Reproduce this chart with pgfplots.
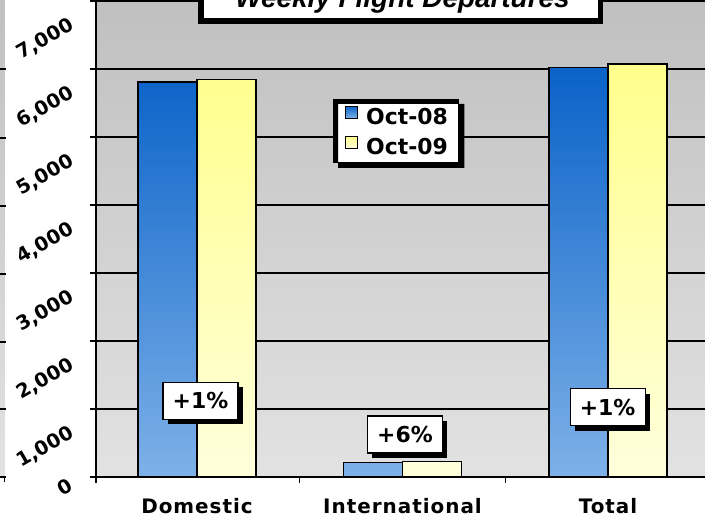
\documentclass[border=0pt]{standalone}
\usepackage{pgfplots}
\pgfplotsset{compat=1.18}
\usepackage{fontspec}
\setmainfont{DejaVu Sans}
\newfontfamily\titlefont{Liberation Sans}
\newfontfamily\spacedfont[LetterSpace=5]{DejaVu Sans}
\usetikzlibrary{shadows}

\definecolor{bluetop}{HTML}{0A62C8}
\definecolor{bluebot}{HTML}{7EB1E8}
\definecolor{yeltop}{HTML}{FFFF8C}
\definecolor{yelbot}{HTML}{FFFFDC}
\definecolor{bgtop}{HTML}{C0C0C0}
\definecolor{bgbot}{HTML}{E2E2E2}

\begin{document}
\begin{tikzpicture}
\useasboundingbox (0bp,0bp) rectangle (705bp,524bp);
\clip (0bp,0bp) rectangle (705bp,524bp);
% fragment of a neighbouring chart at the left edge
\shade[top color=bgtop,bottom color=bgbot] (0bp,47bp) rectangle (4.5bp,524bp);
\foreach \yy in {455,386,318,250,182,115,47} \draw[line width=1.2bp] (0bp,\yy bp) -- (6bp,\yy bp);
\draw[line width=1.2bp] (4.5bp,47bp) -- (4.5bp,42bp);
\begin{axis}[
  at={(96bp,47bp)}, anchor=south west,
  width=609bp, height=476bp, scale only axis,
  xmin=-0.4915, xmax=2.472, ymin=0, ymax=7000,
  axis lines*=left,
  axis line style={line width=1.6bp, black},
  axis background/.style={shade, top color=bgtop, bottom color=bgbot},
  ytick={1000,2000,...,7000},
  extra y ticks={0},
  extra y tick style={yticklabel style={xshift=7bp, yshift=15bp}},
  ymajorgrids, grid style={black, line width=1.2bp},
  tick align=outside, major tick length=6bp,
  tick style={black, line width=1.4bp},
  xtick={-0.4915,0.5,1.5}, xticklabels={},
  extra x ticks={0,1,2},
  extra x tick labels={Domestic,International,Total},
  extra x tick style={major tick length=0pt},
  xticklabel style={font=\spacedfont\bfseries\fontsize{20}{20}\selectfont, yshift=-18bp},
  scaled y ticks=false,
  yticklabel style={rotate=30, anchor=east, inner sep=0pt, font=\bfseries\fontsize{19.5}{19.5}\selectfont, xshift=-27bp, yshift=-11bp},
  /pgf/number format/.cd, assume math mode=true, 1000 sep={,},
  /pgfplots/.cd,
  legend style={name=leg, at={(axis cs:0.662,5559)}, anchor=north west, draw=black, line width=1.2bp, fill=white,
    font=\bfseries\fontsize{22}{22}\selectfont,
    nodes={inner sep=0pt},
    inner xsep=11bp, inner ysep=6bp, row sep=10bp},
  legend cell align=left,
]
\addplot[ybar, bar width=0.287, bar shift=-0.1435, draw=black, line width=1.2bp,
  shade, top color=bluetop, bottom color=bluebot,
  legend image code/.code={\draw[draw=black, line width=1bp, shade, top color=bluetop, bottom color=bluebot] (0bp,-1bp) rectangle (12bp,11bp); \path[draw=none] (0bp,0bp) -- (21bp,0bp);}]
  coordinates {(0,5810) (1,212) (2,6022)};
\addlegendentry{Oct-08}
\addplot[ybar, bar width=0.287, bar shift=0.1435, draw=black, line width=1.2bp,
  shade, top color=yeltop, bottom color=yelbot,
  legend image code/.code={\draw[draw=black, line width=1bp, shade, top color=yeltop, bottom color=yelbot] (0bp,-1bp) rectangle (12bp,11bp); \path[draw=none] (0bp,0bp) -- (21bp,0bp);}]
  coordinates {(0,5850) (1,225) (2,6075)};
\addlegendentry{Oct-09}
\tikzset{pct/.style={draw=black, line width=1.2bp, fill=white,
  general shadow={fill=black, shadow xshift=5bp, shadow yshift=-5bp},
  minimum width=75bp, minimum height=37bp, inner sep=0pt,
  font=\bfseries\fontsize{22}{22}\selectfont}}
\node[pct] at (axis cs:0.017,1118) {+1\%};
\node[pct] at (axis cs:1.012,625) {+6\%};
\node[pct] at (axis cs:1.998,1029) {+1\%};
\end{axis}
% legend drop shadow (only the part outside the legend box)
\fill[black, even odd rule]
  ([shift={(5bp,-5bp)}]leg.south west) rectangle ([shift={(5bp,-5bp)}]leg.north east)
  ([shift={(0.6bp,0.6bp)}]leg.south west) rectangle ([shift={(-0.6bp,-0.6bp)}]leg.north east);
\draw[line width=5.5bp, fill=white] (201bp,503bp) rectangle (600.5bp,570bp);
\node[anchor=base, inner sep=0pt, font=\titlefont\bfseries\itshape\fontsize{28}{28}\selectfont] at (402.5bp,516bp) {Weekly Flight Departures};
\end{tikzpicture}
\end{document}
